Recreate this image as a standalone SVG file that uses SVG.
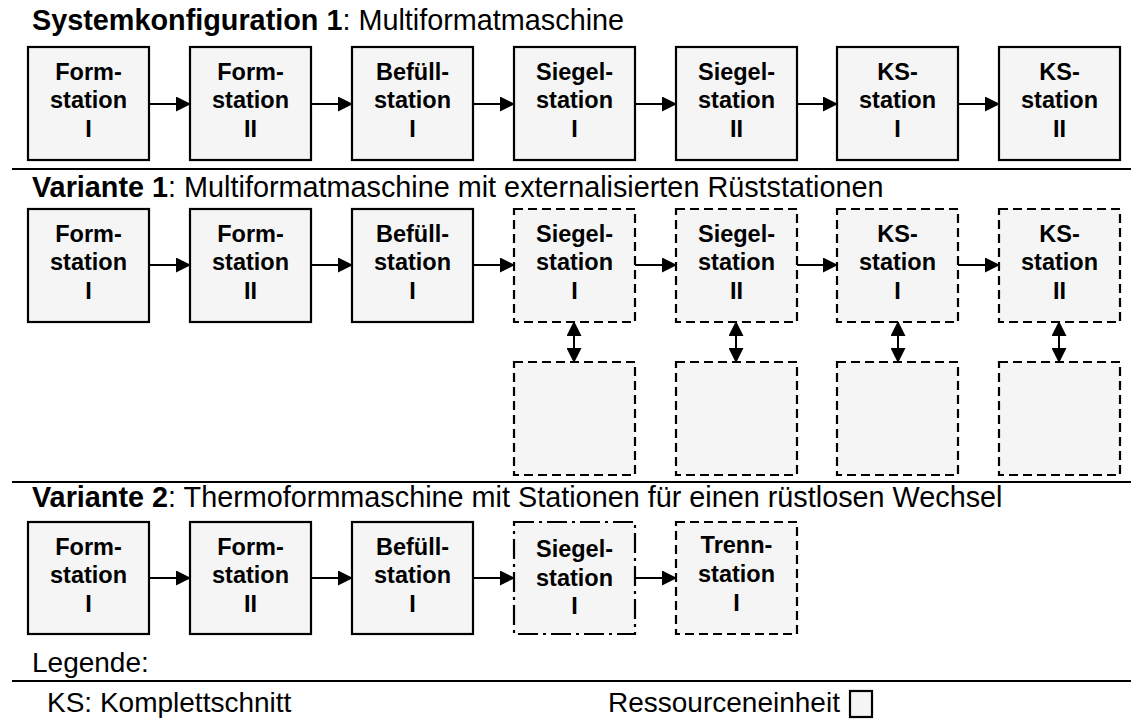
<svg xmlns="http://www.w3.org/2000/svg" width="1131" height="720" viewBox="0 0 1131 720">
<style>
.box{fill:#f4f5f4;stroke:#000;stroke-width:2.2}
.dash{stroke-dasharray:9 5}
.dd{stroke-dasharray:20 5 3 5}
.lbl{font-family:"Liberation Sans",Arial,sans-serif;font-weight:bold;font-size:23.5px;text-anchor:middle;fill:#000}
.ttl{font-family:"Liberation Sans",Arial,sans-serif;font-size:28.8px;fill:#000}
.leg{font-family:"Liberation Sans",Arial,sans-serif;font-size:28px;fill:#000}
.sep{stroke:#000;stroke-width:2}
.arr{stroke:#000;stroke-width:2;fill:none;marker-end:url(#ah)}
.darr{stroke:#000;stroke-width:2;fill:none;marker-start:url(#ahs);marker-end:url(#ah)}
</style>
<defs>
<marker id="ah" markerWidth="15" markerHeight="15" refX="14" refY="7.5" orient="auto" markerUnits="userSpaceOnUse"><path d="M0,0 L15,7.5 L0,15 Z" fill="#000"/></marker>
<marker id="ahs" markerWidth="15" markerHeight="15" refX="1" refY="7.5" orient="auto" markerUnits="userSpaceOnUse"><path d="M15,0 L0,7.5 L15,15 Z" fill="#000"/></marker>
</defs>
<text class="ttl" x="32" y="30"><tspan font-weight="bold">Systemkonfiguration 1</tspan>: Multiformatmaschine</text>
<line class="sep" x1="12" y1="169" x2="1131" y2="169"/>
<text class="ttl" x="32" y="197"><tspan font-weight="bold">Variante 1</tspan>: Multiformatmaschine mit externalisierten Rüststationen</text>
<line class="sep" x1="12" y1="482" x2="1131" y2="482"/>
<text class="ttl" x="32" y="507"><tspan font-weight="bold">Variante 2</tspan>: Thermoformmaschine mit Stationen für einen rüstlosen Wechsel</text>
<line class="sep" x1="12" y1="681" x2="1131" y2="681"/>
<text class="leg" x="32" y="672">Legende:</text>
<text class="leg" x="47" y="712">KS: Komplettschnitt</text>
<text class="leg" x="608" y="712">Ressourceneinheit</text>
<rect class="box" x="850" y="691" width="22" height="26"/>

<g id="connectors">
<line class="arr" x1="149" y1="104" x2="190" y2="104"/>
<line class="arr" x1="311" y1="104" x2="352" y2="104"/>
<line class="arr" x1="473" y1="104" x2="514" y2="104"/>
<line class="arr" x1="635" y1="104" x2="676" y2="104"/>
<line class="arr" x1="797" y1="104" x2="837" y2="104"/>
<line class="arr" x1="958" y1="104" x2="999" y2="104"/>

<line class="arr" x1="149" y1="265" x2="190" y2="265"/>
<line class="arr" x1="311" y1="265" x2="352" y2="265"/>
<line class="arr" x1="473" y1="265" x2="514" y2="265"/>
<line class="arr" x1="635" y1="265" x2="676" y2="265"/>
<line class="arr" x1="797" y1="265" x2="837" y2="265"/>
<line class="arr" x1="958" y1="265" x2="999" y2="265"/>

<line class="darr" x1="574" y1="322" x2="574" y2="362"/>
<line class="darr" x1="736" y1="322" x2="736" y2="362"/>
<line class="darr" x1="898" y1="322" x2="898" y2="362"/>
<line class="darr" x1="1059" y1="322" x2="1059" y2="362"/>

<line class="arr" x1="149" y1="578" x2="190" y2="578"/>
<line class="arr" x1="311" y1="578" x2="352" y2="578"/>
<line class="arr" x1="473" y1="578" x2="514" y2="578"/>
<line class="arr" x1="635" y1="578" x2="676" y2="578"/>
</g>

<!-- Row 1 -->
<g id="s1-form1"><rect class="box" x="28" y="47" width="121" height="113"/><text class="lbl" x="88.5" y="80">Form-</text><text class="lbl" x="88.5" y="108">station</text><text class="lbl" x="88.5" y="137">I</text></g>
<g id="s1-form2"><rect class="box" x="190" y="47" width="121" height="113"/><text class="lbl" x="250.5" y="80">Form-</text><text class="lbl" x="250.5" y="108">station</text><text class="lbl" x="250.5" y="137">II</text></g>
<g id="s1-befuell"><rect class="box" x="352" y="47" width="121" height="113"/><text class="lbl" x="412.5" y="80">Befüll-</text><text class="lbl" x="412.5" y="108">station</text><text class="lbl" x="412.5" y="137">I</text></g>
<g id="s1-siegel1"><rect class="box" x="514" y="47" width="121" height="113"/><text class="lbl" x="574.5" y="80">Siegel-</text><text class="lbl" x="574.5" y="108">station</text><text class="lbl" x="574.5" y="137">I</text></g>
<g id="s1-siegel2"><rect class="box" x="676" y="47" width="121" height="113"/><text class="lbl" x="736.5" y="80">Siegel-</text><text class="lbl" x="736.5" y="108">station</text><text class="lbl" x="736.5" y="137">II</text></g>
<g id="s1-ks1"><rect class="box" x="837" y="47" width="121" height="113"/><text class="lbl" x="897.5" y="80">KS-</text><text class="lbl" x="897.5" y="108">station</text><text class="lbl" x="897.5" y="137">I</text></g>
<g id="s1-ks2"><rect class="box" x="999" y="47" width="121" height="113"/><text class="lbl" x="1059.5" y="80">KS-</text><text class="lbl" x="1059.5" y="108">station</text><text class="lbl" x="1059.5" y="137">II</text></g>

<!-- Row 2 -->
<g id="v1-form1"><rect class="box" x="28" y="209" width="121" height="113"/><text class="lbl" x="88.5" y="242">Form-</text><text class="lbl" x="88.5" y="270">station</text><text class="lbl" x="88.5" y="299">I</text></g>
<g id="v1-form2"><rect class="box" x="190" y="209" width="121" height="113"/><text class="lbl" x="250.5" y="242">Form-</text><text class="lbl" x="250.5" y="270">station</text><text class="lbl" x="250.5" y="299">II</text></g>
<g id="v1-befuell"><rect class="box" x="352" y="209" width="121" height="113"/><text class="lbl" x="412.5" y="242">Befüll-</text><text class="lbl" x="412.5" y="270">station</text><text class="lbl" x="412.5" y="299">I</text></g>
<g id="v1-siegel1"><rect class="box dash" x="514" y="209" width="121" height="113"/><text class="lbl" x="574.5" y="242">Siegel-</text><text class="lbl" x="574.5" y="270">station</text><text class="lbl" x="574.5" y="299">I</text></g>
<g id="v1-siegel2"><rect class="box dash" x="676" y="209" width="121" height="113"/><text class="lbl" x="736.5" y="242">Siegel-</text><text class="lbl" x="736.5" y="270">station</text><text class="lbl" x="736.5" y="299">II</text></g>
<g id="v1-ks1"><rect class="box dash" x="837" y="209" width="121" height="113"/><text class="lbl" x="897.5" y="242">KS-</text><text class="lbl" x="897.5" y="270">station</text><text class="lbl" x="897.5" y="299">I</text></g>
<g id="v1-ks2"><rect class="box dash" x="999" y="209" width="121" height="113"/><text class="lbl" x="1059.5" y="242">KS-</text><text class="lbl" x="1059.5" y="270">station</text><text class="lbl" x="1059.5" y="299">II</text></g>
<g id="v1-res1"><rect class="box dash" x="514" y="362" width="121" height="113"/></g>
<g id="v1-res2"><rect class="box dash" x="676" y="362" width="121" height="113"/></g>
<g id="v1-res3"><rect class="box dash" x="837" y="362" width="121" height="113"/></g>
<g id="v1-res4"><rect class="box dash" x="999" y="362" width="121" height="113"/></g>

<!-- Row 3 -->
<g id="v2-form1"><rect class="box" x="28" y="522" width="121" height="112"/><text class="lbl" x="88.5" y="555">Form-</text><text class="lbl" x="88.5" y="583">station</text><text class="lbl" x="88.5" y="612">I</text></g>
<g id="v2-form2"><rect class="box" x="190" y="522" width="121" height="112"/><text class="lbl" x="250.5" y="555">Form-</text><text class="lbl" x="250.5" y="583">station</text><text class="lbl" x="250.5" y="612">II</text></g>
<g id="v2-befuell"><rect class="box" x="352" y="522" width="121" height="112"/><text class="lbl" x="412.5" y="555">Befüll-</text><text class="lbl" x="412.5" y="583">station</text><text class="lbl" x="412.5" y="612">I</text></g>
<g id="v2-siegel1"><rect class="box dd" x="514" y="522" width="121" height="112"/><text class="lbl" x="574.5" y="557">Siegel-</text><text class="lbl" x="574.5" y="586">station</text><text class="lbl" x="574.5" y="614">I</text></g>
<g id="v2-trenn1"><rect class="box dash" x="676" y="522" width="121" height="112"/><text class="lbl" x="736.5" y="553">Trenn-</text><text class="lbl" x="736.5" y="582">station</text><text class="lbl" x="736.5" y="611">I</text></g>
</svg>
